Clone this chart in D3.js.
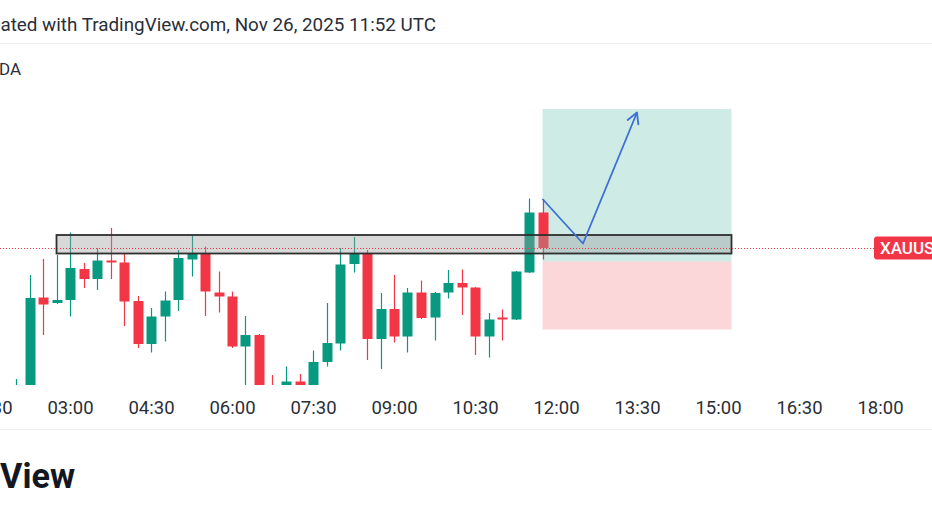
<!DOCTYPE html>
<html><head><meta charset="utf-8">
<script src="https://cdn.jsdelivr.net/npm/d3@7"></script>
<style>html,body{margin:0;padding:0;background:#fff;overflow:hidden}svg{display:block;font-family:Roboto,"Noto Sans",sans-serif}</style>
</head><body>
<svg id="c" width="932" height="524"></svg>
<script>
// ---- data (XAUUSD 15m, Nov 26 2025, UTC) ----
const times  = ["02:00","02:15","02:30","02:45","03:00","03:15","03:30","03:45","04:00","04:15","04:30","04:45","05:00","05:15","05:30","05:45","06:00","06:15","06:30","06:45","07:00","07:15","07:30","07:45","08:00","08:15","08:30","08:45","09:00","09:15","09:30","09:45","10:00","10:15","10:30","10:45","11:00","11:15","11:30","11:45"];
const open   = [4129.6,4130.6,4150.1,4149.0,4149.6,4155.8,4153.8,4157.5,4157.1,4149.4,4140.8,4146.3,4149.6,4157.7,4158.9,4151.1,4150.3,4140.3,4142.6,4132.4,4132.0,4133.3,4132.0,4137.2,4140.9,4156.8,4158.8,4141.8,4147.8,4142.3,4151.1,4146.1,4151.1,4153.0,4152.1,4142.3,4146.1,4145.7,4155.1,4167.1];
const high   = [4133.8,4154.6,4157.8,4158.6,4163.1,4157.0,4160.0,4164.0,4159.0,4150.4,4148.0,4151.3,4159.6,4162.6,4160.3,4155.3,4151.3,4146.4,4142.8,4134.6,4136.3,4134.8,4139.5,4149.0,4160.0,4162.2,4159.6,4151.0,4154.6,4152.0,4153.5,4151.2,4155.6,4155.7,4152.2,4147.0,4147.7,4155.4,4169.9,4169.8];
const low    = [4128.6,4129.6,4142.6,4148.8,4146.3,4152.0,4151.6,4153.8,4144.4,4140.0,4139.1,4141.3,4147.4,4154.3,4146.4,4147.1,4140.0,4132.0,4130.2,4130.0,4131.2,4131.6,4131.6,4136.3,4139.5,4155.1,4137.6,4135.8,4141.1,4139.1,4145.8,4141.5,4149.9,4146.6,4138.6,4138.1,4141.5,4145.6,4155.0,4157.7];
const close  = [4131.2,4150.0,4148.7,4149.6,4156.0,4153.8,4157.5,4157.1,4149.3,4140.8,4146.3,4149.5,4158.0,4158.9,4151.3,4150.3,4140.3,4142.6,4131.2,4131.2,4133.3,4132.4,4137.2,4141.0,4156.7,4158.8,4141.8,4147.8,4142.3,4151.1,4146.0,4151.0,4153.0,4152.1,4142.3,4145.7,4145.7,4155.3,4167.1,4160.0];

const tickLabels = ["01:30","03:00","04:30","06:00","07:30","09:00","10:30","12:00","13:30","15:00","16:30","18:00"];

// resistance zone
const zoneTimes  = ["02:45","15:15"];
const zonePrices = [4162.6, 4158.9];
// long position tool
const posTimes   = ["11:45","15:15"];
const posEntry   = 4157.3;
const posTarget  = 4187.8;
const posStop    = 4143.7;
// projected path
const pathTimes  = ["11:45","12:30","13:30"];
const pathPrices = [4169.8, 4160.9, 4187.1];

const symbol = "XAUUSD";
const headerText = "Created with TradingView.com, Nov 26, 2025 11:52 UTC";
const titleText = "Gold Spot / U.S. Dollar, 15, OANDA";
const logoText = "TradingView";

// ---- helpers ----
const T = s => { const [h,m] = s.split(":").map(Number); return new Date(Date.UTC(2025,10,26,h,m)); };
const candles = times.map((t,i)=>({t:T(t),o:open[i],h:high[i],l:low[i],c:close[i]}));

const W = 932, H = 524;
const svg = d3.select("#c");
svg.append("rect").attr("width",W).attr("height",H).attr("fill","#fff");

const x = d3.scaleUtc().domain([T("02:00"), T("12:00")]).range([16, 556]);
const y = d3.scaleLinear().domain([4132.6, 4200.6]).range([385, 45]);
const step = x(T("02:15")) - x(T("02:00"));
const bw = step * 0.74;

const UP = "#089981", DN = "#F23645";

// fit a text so that the substring starting at `from` spans [0, right]
function fitText(sel, from, right, baseSize){
  const n = sel.node();
  const txt = n.textContent;
  const sub = n.getSubStringLength(from, txt.length-from);
  const size = baseSize * right / sub;
  sel.attr("font-size", size);
}

// header
const hdr = svg.append("text").attr("x",436).attr("y",31).attr("text-anchor","end")
  .attr("font-size",18).attr("fill","#2a2e39").text(headerText);
fitText(hdr, headerText.indexOf("ated"), 436, 18);
svg.append("line").attr("x1",0).attr("x2",W).attr("y1",43.5).attr("y2",43.5).attr("stroke","#eeeeee");
svg.append("text").attr("x",21).attr("y",75).attr("text-anchor","end")
  .attr("font-size",17).attr("fill","#2a2e39").text(titleText);

// chart area clip
svg.append("clipPath").attr("id","clip").append("rect").attr("x",0).attr("y",45).attr("width",W).attr("height",340);
const g = svg.append("g").attr("clip-path","url(#clip)");

// position tool
const px0 = x(T(posTimes[0])), px1 = x(T(posTimes[1]));
g.append("rect").attr("x",px0).attr("width",px1-px0).attr("y",y(posTarget)).attr("height",y(posEntry)-y(posTarget))
  .attr("fill","rgba(8,153,129,0.2)");
g.append("rect").attr("x",px0).attr("width",px1-px0).attr("y",y(posEntry)).attr("height",y(posStop)-y(posEntry))
  .attr("fill","rgba(242,54,69,0.2)");

// candles
const cg = g.append("g");
candles.forEach(d=>{
  const col = d.c >= d.o ? UP : DN;
  const cx = Math.round(x(d.t)) + 0.5;
  cg.append("line").attr("x1",cx).attr("x2",cx).attr("y1",y(d.h)).attr("y2",y(d.l)).attr("stroke",col).attr("stroke-width",1.2);
  const top = y(Math.max(d.o,d.c)), bot = y(Math.min(d.o,d.c));
  cg.append("rect").attr("x",cx-bw/2).attr("width",bw).attr("y",top).attr("height",Math.max(1.5,bot-top)).attr("fill",col);
});

// zone
const zx0 = x(T(zoneTimes[0])), zx1 = x(T(zoneTimes[1]));
g.append("rect").attr("x",zx0).attr("width",zx1-zx0).attr("y",y(zonePrices[0])).attr("height",y(zonePrices[1])-y(zonePrices[0]))
  .attr("fill","#9e9e9e").attr("fill-opacity",0.4).attr("stroke","#2f2f2f").attr("stroke-width",1.8);

// price line
const last = candles[candles.length-1].c;
g.append("line").attr("x1",0).attr("x2",875).attr("y1",Math.round(y(last))+0.5).attr("y2",Math.round(y(last))+0.5)
  .attr("stroke",DN).attr("stroke-width",1).attr("stroke-dasharray","1,2");

// projected path with open arrowhead
const pts = pathTimes.map((t,i)=>[x(T(t)), y(pathPrices[i])]);
g.append("path").attr("d",d3.line()(pts)).attr("fill","none").attr("stroke","#3d6fd6").attr("stroke-width",1.8).attr("stroke-linejoin","round");
const [ax,ay] = pts[pts.length-1], [bx,by] = pts[pts.length-2];
const ang = Math.atan2(ay-by, ax-bx), L = 12, spread = 0.5;
const arm = s => [ax - L*Math.cos(ang+s), ay - L*Math.sin(ang+s)];
g.append("path").attr("d",d3.line()([arm(spread),[ax,ay],arm(-spread)])).attr("fill","none")
  .attr("stroke","#3d6fd6").attr("stroke-width",1.8).attr("stroke-linecap","round").attr("stroke-linejoin","round");

// price label
const ly = y(last);
svg.append("rect").attr("x",874).attr("y",ly-11.5).attr("width",80).attr("height",23).attr("rx",3).attr("fill",DN);
svg.append("text").attr("x",880).attr("y",ly+6).attr("font-size",17).attr("font-weight",500).attr("fill","#fff").text(symbol);

// time axis
const ax_ = d3.axisBottom(x).tickValues(tickLabels.map(T)).tickFormat(d3.utcFormat("%H:%M")).tickSize(0).tickPadding(0);
const axg = svg.append("g").attr("transform","translate(0,401)").call(ax_);
axg.select(".domain").remove();
axg.selectAll("text").attr("font-size",18.5).attr("fill","#2a2e39").attr("font-family","Roboto,sans-serif").attr("dy","0.71em");

svg.append("line").attr("x1",0).attr("x2",W).attr("y1",429.5).attr("y2",429.5).attr("stroke","#eeeeee");

// logo
const logo = svg.append("text").attr("x",75).attr("y",488).attr("text-anchor","end").attr("font-size",30).attr("font-weight",700)
  .attr("fill","#131722").text(logoText);
fitText(logo, logoText.indexOf("View"), 75, 30);
</script>
</body></html>
